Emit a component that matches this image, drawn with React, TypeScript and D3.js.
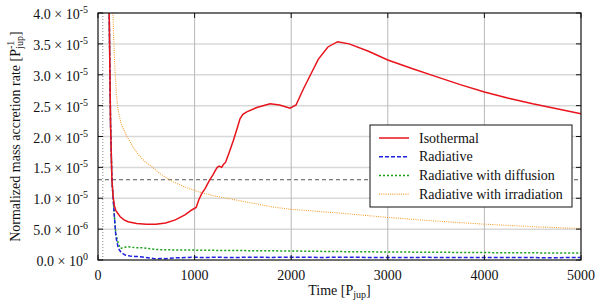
import React from "react";
import * as d3 from "d3";

// time in P_jup, value in P_jup^-1
const isothermal: [number, number][] = [
  [105, 6e-5], [116, 4e-5], [130, 2.2e-5], [144, 1.3e-5], [157, 1.02e-5], [170, 8.8e-6],
  [185, 8e-6], [230, 7e-6], [270, 6.5e-6], [310, 6.2e-6], [400, 5.9e-6], [500, 5.8e-6],
  [600, 5.8e-6], [700, 6.0e-6], [800, 6.5e-6], [900, 7.3e-6], [970, 8.1e-6], [1016, 8.5e-6],
  [1045, 9.8e-6], [1075, 1.08e-5], [1110, 1.16e-5], [1140, 1.25e-5], [1161, 1.31e-5],
  [1190, 1.38e-5], [1215, 1.45e-5], [1235, 1.5e-5], [1255, 1.52e-5], [1280, 1.5e-5],
  [1300, 1.55e-5], [1320, 1.58e-5], [1360, 1.75e-5], [1402, 1.94e-5], [1440, 2.13e-5],
  [1471, 2.29e-5], [1500, 2.36e-5], [1540, 2.4e-5], [1644, 2.47e-5], [1781, 2.53e-5],
  [1880, 2.51e-5], [1988, 2.46e-5], [2050, 2.51e-5], [2126, 2.77e-5], [2200, 3.0e-5],
  [2280, 3.25e-5], [2380, 3.45e-5], [2480, 3.535e-5], [2600, 3.5e-5], [2800, 3.38e-5],
  [3000, 3.24e-5], [3250, 3.1e-5], [3500, 2.97e-5], [3750, 2.84e-5], [4000, 2.72e-5],
  [4250, 2.62e-5], [4500, 2.53e-5], [4750, 2.45e-5], [5000, 2.37e-5],
];

const radiative: [number, number][] = [
  [105, 6e-5], [116, 4e-5], [130, 2.2e-5], [144, 1.3e-5], [157, 1.0e-5], [170, 7e-6],
  [185, 3.8e-6], [210, 1.9e-6], [240, 1.2e-6], [280, 8e-7], [330, 6.5e-7], [380, 5.8e-7],
  [437, 5.4e-7], [490, 4e-7], [540, 3e-7], [600, 1.8e-7], [650, 2.5e-7], [700, 2.2e-7],
  [800, 3.5e-7], [900, 4e-7], [1000, 4.5e-7], [1100, 4e-7], [1200, 4.4e-7], [1400, 4.1e-7],
  [1600, 4.5e-7], [1800, 4.2e-7], [2000, 4.6e-7], [2300, 4.2e-7], [2600, 4.4e-7],
  [3000, 4.0e-7], [3400, 4.3e-7], [3800, 3.9e-7], [4200, 4.1e-7], [4600, 3.8e-7],
  [5000, 3.9e-7],
];

const diffusion: [number, number][] = [
  [105, 6e-5], [116, 4e-5], [130, 2.2e-5], [144, 1.3e-5], [157, 1.0e-5], [170, 7e-6],
  [185, 4.2e-6], [210, 2.7e-6], [230, 1.9e-6], [260, 1.95e-6], [290, 2.1e-6], [313, 2.15e-6],
  [350, 2.05e-6], [400, 2.0e-6], [450, 2.0e-6], [500, 1.9e-6], [550, 1.8e-6], [600, 1.7e-6],
  [700, 1.65e-6], [800, 1.63e-6], [1000, 1.6e-6], [1200, 1.56e-6], [1500, 1.52e-6],
  [2000, 1.46e-6], [2500, 1.36e-6], [3000, 1.3e-6], [3500, 1.25e-6], [4000, 1.2e-6],
  [4500, 1.16e-6], [5000, 1.12e-6],
];

const irradiation: [number, number][] = [
  [135, 6e-5], [150, 4.4e-5], [160, 3.7e-5], [175, 3.1e-5], [190, 2.7e-5], [205, 2.45e-5],
  [240, 2.2e-5], [299, 2.0e-5], [400, 1.74e-5], [480, 1.6e-5], [557, 1.51e-5], [650, 1.39e-5],
  [750, 1.29e-5], [900, 1.18e-5], [1050, 1.1e-5], [1200, 1.04e-5], [1400, 0.98e-5],
  [1600, 0.92e-5], [1800, 0.86e-5], [2000, 0.82e-5], [2500, 0.76e-5], [3000, 0.69e-5],
  [3500, 0.63e-5], [4000, 0.58e-5], [4500, 0.54e-5], [5000, 0.51e-5],
];

const xTicks = [0, 1000, 2000, 3000, 4000, 5000];
const yTicks = [0, 0.5e-5, 1e-5, 1.5e-5, 2e-5, 2.5e-5, 3e-5, 3.5e-5, 4e-5];
const yTickMantissa = ["0.0", "5.0", "1.0", "1.5", "2.0", "2.5", "3.0", "3.5", "4.0"];
const yTickExp = ["0", "-6", "-5", "-5", "-5", "-5", "-5", "-5", "-5"];
const thresholdRate = 1.3e-5;
const markerTime = 50;

const seriesNames = ["Isothermal", "Radiative", "Radiative with diffusion", "Radiative with irradiation"];
const seriesData = [isothermal, radiative, diffusion, irradiation];
const seriesColors = ["#e8131b", "#2020e0", "#14a014", "#f5a030"];
const seriesDash = ["none", "4,2", "2,2", "1,1.2"];
const seriesWidth = [1.5, 1.5, 1.5, 1.1];

const W = 600;
const H = 306;
const margin = { top: 13, right: 19, bottom: 46, left: 98 };
const FONT = "Liberation Serif";

export default function App() {
  document.body.style.margin = "0";
  const x = d3.scaleLinear().domain([0, 5000]).range([margin.left, W - margin.right]);
  const y = d3.scaleLinear().domain([0, 4e-5]).range([H - margin.bottom, margin.top]);
  const [x0, x1] = x.range();
  const [y0, y1] = y.range();
  const line = d3.line<[number, number]>().x((d) => x(d[0])).y((d) => y(d[1]));

  return (
    <svg width={W} height={H} style={{ display: "block", background: "white" }}>
      <defs>
        <clipPath id="plot-clip">
          <rect x={x0} y={y1} width={x1 - x0} height={y0 - y1} />
        </clipPath>
      </defs>

      {/* grid */}
      {yTicks.slice(1, -1).map((v) => (
        <line key={"gy" + v} x1={x0} x2={x1} y1={y(v)} y2={y(v)} stroke="#d8d8d8" strokeWidth={1.5} />
      ))}
      {xTicks.slice(1, -1).map((v) => (
        <line key={"gx" + v} x1={x(v)} x2={x(v)} y1={y0} y2={y1} stroke="#b8b8b8" strokeWidth={1} />
      ))}

      {/* reference lines */}
      <line x1={x0} x2={x1} y1={y(thresholdRate)} y2={y(thresholdRate)}
        stroke="#555" strokeWidth={1} strokeDasharray="4,3" />
      <line x1={x(markerTime)} x2={x(markerTime)} y1={y0} y2={y1}
        stroke="#888" strokeWidth={1} strokeDasharray="1,2" />

      {/* curves */}
      <g clipPath="url(#plot-clip)">
        {[3, 2, 1, 0].map((i) => (
          <path key={seriesNames[i]} d={line(seriesData[i]) ?? ""} fill="none"
            stroke={seriesColors[i]} strokeWidth={seriesWidth[i]} strokeDasharray={seriesDash[i]} />
        ))}
      </g>

      {/* frame and inward ticks */}
      <rect x={x0} y={y1} width={x1 - x0} height={y0 - y1} fill="none" stroke="#111" strokeWidth={1.2} />
      <g stroke="#111" strokeWidth={1}>
        {yTicks.map((v) => (
          <g key={"ty" + v}>
            <line x1={x0} x2={x0 + 5} y1={y(v)} y2={y(v)} />
            <line x1={x1} x2={x1 - 5} y1={y(v)} y2={y(v)} />
          </g>
        ))}
        {xTicks.map((v) => (
          <g key={"tx" + v}>
            <line x1={x(v)} x2={x(v)} y1={y0} y2={y0 - 5} />
            <line x1={x(v)} x2={x(v)} y1={y1} y2={y1 + 5} />
          </g>
        ))}
      </g>

      {/* tick labels */}
      <g fontFamily={FONT} fontSize={14} fill="#111">
        {xTicks.map((v) => (
          <text key={"lx" + v} x={x(v)} y={y0 + 20} textAnchor="middle">{v}</text>
        ))}
        {yTicks.map((v, i) => (
          <text key={"ly" + v} x={x0 - 10} y={y(v) + 6} textAnchor="end">
            <tspan>{`${yTickMantissa[i]} \u00d7 10`}</tspan>
            <tspan dy={-6} fontSize={10}>{yTickExp[i]}</tspan>
          </text>
        ))}

        {/* axis titles */}
        <text x={(x0 + x1) / 2} y={295} textAnchor="middle">
          <tspan>Time [P</tspan>
          <tspan dy={3} fontSize={10}>jup</tspan>
          <tspan dy={-3}>]</tspan>
        </text>
        <text transform={`translate(19.5,${(y0 + y1) / 2}) rotate(-90)`} textAnchor="middle">
          <tspan>Normalized mass accretion rate [P</tspan>
          <tspan dy={-6} fontSize={10}>-1</tspan>
          <tspan dy={9} dx={-8} fontSize={10}>jup</tspan>
          <tspan dy={-3}>]</tspan>
        </text>
      </g>

      {/* legend */}
      <g fontFamily={FONT} fontSize={14}>
        <rect x={370} y={125} width={202} height={82} fill="white" stroke="#111" strokeWidth={1} />
        {seriesNames.map((name, i) => {
          const ly = 138 + i * 18.7;
          return (
            <g key={"lg" + name}>
              <line x1={379} x2={409} y1={ly} y2={ly} stroke={seriesColors[i]}
                strokeWidth={seriesWidth[i]} strokeDasharray={seriesDash[i]} />
              <text x={419} y={ly + 4.5} fill="#111">{name}</text>
            </g>
          );
        })}
      </g>
    </svg>
  );
}
